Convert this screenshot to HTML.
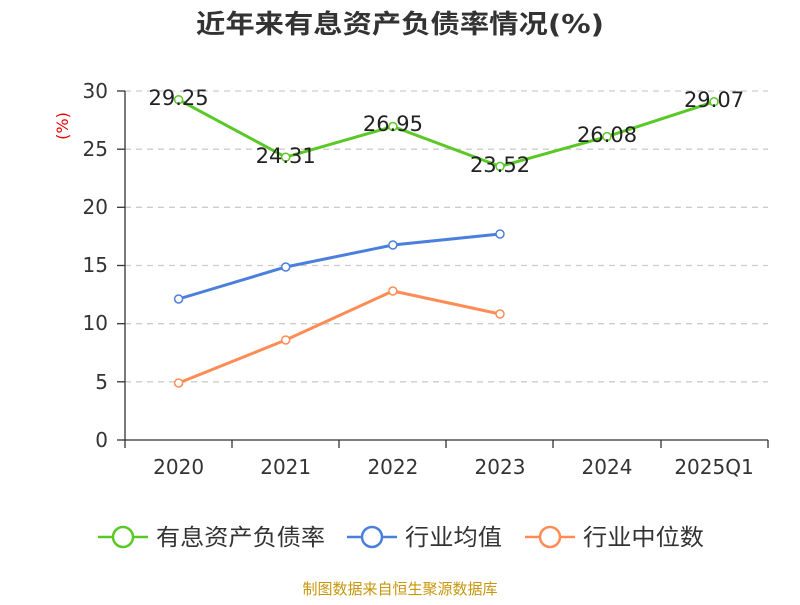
<!DOCTYPE html>
<html><head><meta charset="utf-8"><style>body{margin:0;background:#fff}</style></head><body>
<svg width="800" height="600" xmlns="http://www.w3.org/2000/svg" font-family="DejaVu Sans, Noto Sans CJK SC, sans-serif">
<text x="400" y="33" text-anchor="middle" font-size="26" font-weight="bold" fill="#333" textLength="408" lengthAdjust="spacingAndGlyphs">近年来有息资产负债率情况(%)</text>
<text x="68" y="126" font-size="16" fill="#e00" transform="rotate(-90 68 126)" text-anchor="middle">(%)</text>
<g stroke="#ccc" stroke-dasharray="6,5" stroke-width="1.3">
<line x1="125" x2="768" y1="91" y2="91"/><line x1="125" x2="768" y1="149.2" y2="149.2"/><line x1="125" x2="768" y1="207.3" y2="207.3"/><line x1="125" x2="768" y1="265.5" y2="265.5"/><line x1="125" x2="768" y1="323.7" y2="323.7"/><line x1="125" x2="768" y1="381.8" y2="381.8"/>
</g>
<g stroke="#333" stroke-width="1.3">
<line x1="125" x2="125" y1="91" y2="440"/><line x1="125" x2="768" y1="440" y2="440"/>
<line x1="117" x2="125" y1="91" y2="91"/><line x1="117" x2="125" y1="149.2" y2="149.2"/><line x1="117" x2="125" y1="207.3" y2="207.3"/><line x1="117" x2="125" y1="265.5" y2="265.5"/><line x1="117" x2="125" y1="323.7" y2="323.7"/><line x1="117" x2="125" y1="381.8" y2="381.8"/><line x1="117" x2="125" y1="440" y2="440"/>
<line x1="125" x2="125" y1="440" y2="448"/><line x1="232" x2="232" y1="440" y2="448"/><line x1="339" x2="339" y1="440" y2="448"/><line x1="446" x2="446" y1="440" y2="448"/><line x1="553" x2="553" y1="440" y2="448"/><line x1="661" x2="661" y1="440" y2="448"/><line x1="768" x2="768" y1="440" y2="448"/>
</g>
<g font-size="20" fill="#333" text-anchor="end">
<text x="108" y="98">30</text><text x="108" y="156">25</text><text x="108" y="214">20</text><text x="108" y="272">15</text><text x="108" y="330">10</text><text x="108" y="389">5</text><text x="108" y="447">0</text>
</g>
<g font-size="20" fill="#333" text-anchor="middle">
<text x="178.6" y="474">2020</text><text x="285.7" y="474">2021</text><text x="392.9" y="474">2022</text><text x="500" y="474">2023</text><text x="607" y="474">2024</text><text x="714" y="474">2025Q1</text>
</g>
<g fill="#fff" stroke-width="1.5">
<polyline fill="none" stroke="#5ac826" stroke-width="3" points="178.6,99.7 285.7,157.2 392.9,126.5 500,166.4 607,136.6 714,101.8"/>
<g stroke="#5ac826"><circle cx="178.6" cy="99.7" r="4"/><circle cx="285.7" cy="157.2" r="4"/><circle cx="392.9" cy="126.5" r="4"/><circle cx="500" cy="166.4" r="4"/><circle cx="607" cy="136.6" r="4"/><circle cx="714" cy="101.8" r="4"/></g>
<polyline fill="none" stroke="#4a7fdc" stroke-width="3" points="178.6,299 285.7,267 392.9,245 500,234"/>
<g stroke="#4a7fdc"><circle cx="178.6" cy="299" r="4"/><circle cx="285.7" cy="267" r="4"/><circle cx="392.9" cy="245" r="4"/><circle cx="500" cy="234" r="4"/></g>
<polyline fill="none" stroke="#ff8c55" stroke-width="3" points="178.6,383 285.7,340 392.9,291 500,314"/>
<g stroke="#ff8c55"><circle cx="178.6" cy="383" r="4"/><circle cx="285.7" cy="340" r="4"/><circle cx="392.9" cy="291" r="4"/><circle cx="500" cy="314" r="4"/></g>
</g>
<g font-size="21" fill="#222" text-anchor="middle">
<text x="178.6" y="105">29.25</text><text x="285.7" y="163">24.31</text><text x="392.9" y="131">26.95</text><text x="500" y="172">23.52</text><text x="607" y="142">26.08</text><text x="714" y="107">29.07</text>
</g>
<g stroke-width="2.5" fill="#fff">
<line x1="98" x2="148" y1="537" y2="537" stroke="#5ac826"/><circle cx="123" cy="537" r="10" stroke="#5ac826"/>
<line x1="347" x2="397" y1="537" y2="537" stroke="#4a7fdc"/><circle cx="372" cy="537" r="10" stroke="#4a7fdc"/>
<line x1="525" x2="575" y1="537" y2="537" stroke="#ff8c55"/><circle cx="550" cy="537" r="10" stroke="#ff8c55"/>
</g>
<g font-size="23" fill="#333">
<text x="156" y="545" textLength="169" lengthAdjust="spacingAndGlyphs">有息资产负债率</text><text x="405" y="545" textLength="97" lengthAdjust="spacingAndGlyphs">行业均值</text><text x="583" y="545" textLength="121" lengthAdjust="spacingAndGlyphs">行业中位数</text>
</g>
<text x="400" y="594" text-anchor="middle" font-size="15" fill="#c8960a">制图数据来自恒生聚源数据库</text>
</svg>
</body></html>
